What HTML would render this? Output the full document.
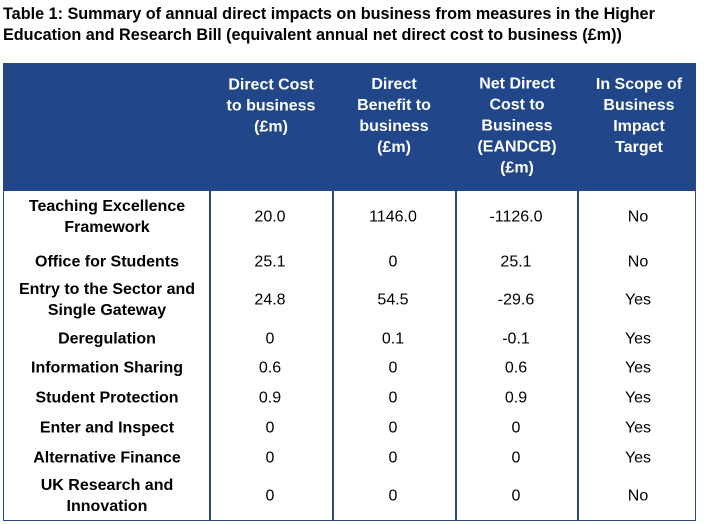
<!DOCTYPE html><html><head><style>
body{margin:0;width:704px;height:524px;background:#fff;font-family:"Liberation Sans",sans-serif;position:relative;overflow:hidden}
.t{position:absolute;left:3px;top:4px;font-weight:bold;font-size:16.2px;line-height:21px;color:#000}
.box{position:absolute;left:3px;top:63px;width:691px;height:456px;border:1.5px solid #2b4a78}
.hd{position:absolute;left:0;top:0;width:691px;height:127px;background:#21468a}
.v{position:absolute;top:127px;width:1.5px;height:329px;background:#2b4a78}
.c{position:absolute;text-align:center;font-size:16px;line-height:21px;transform:translate(-50%,-50%);white-space:nowrap}
.h{color:#fff;font-weight:bold;top:62px}
.b{font-weight:bold}
</style></head><body>
<div class="t">Table 1: Summary of annual direct impacts on business from measures in the Higher<br>Education and Research Bill (equivalent annual net direct cost to business (£m))</div>
<div class="box"><div class="hd">
<div class="c h" style="left:267px;top:42px">Direct Cost<br>to business<br>(£m)</div>
<div class="c h" style="left:390px;top:52px">Direct<br>Benefit to<br>business<br>(£m)</div>
<div class="c h" style="left:513px;top:62px">Net Direct<br>Cost to<br>Business<br>(EANDCB)<br>(£m)</div>
<div class="c h" style="left:635px;top:52px">In Scope of<br>Business<br>Impact<br>Target</div>
</div>
<div class="v" style="left:205px"></div><div class="v" style="left:328px"></div><div class="v" style="left:451px"></div><div class="v" style="left:573px"></div>
</div>
<div id="rows"></div>
<script>
var R=[[217,"Teaching Excellence<br>Framework","20.0","1146.0","-1126.0","No"],[262,"Office for Students","25.1","0","25.1","No"],[300,"Entry to the Sector and<br>Single Gateway","24.8","54.5","-29.6","Yes"],[339,"Deregulation","0","0.1","-0.1","Yes"],[368,"Information Sharing","0.6","0","0.6","Yes"],[398,"Student Protection","0.9","0","0.9","Yes"],[428,"Enter and Inspect","0","0","0","Yes"],[458,"Alternative Finance","0","0","0","Yes"],[496,"UK Research and<br>Innovation","0","0","0","No"]];
var X=[107,270,393,516,638],h="";
R.forEach(function(r){for(var i=0;i<5;i++)h+='<div class="c'+(i?'':' b')+'" style="left:'+X[i]+'px;top:'+r[0]+'px">'+r[i+1]+'</div>';});
document.getElementById("rows").innerHTML=h;
</script>
</body></html>
